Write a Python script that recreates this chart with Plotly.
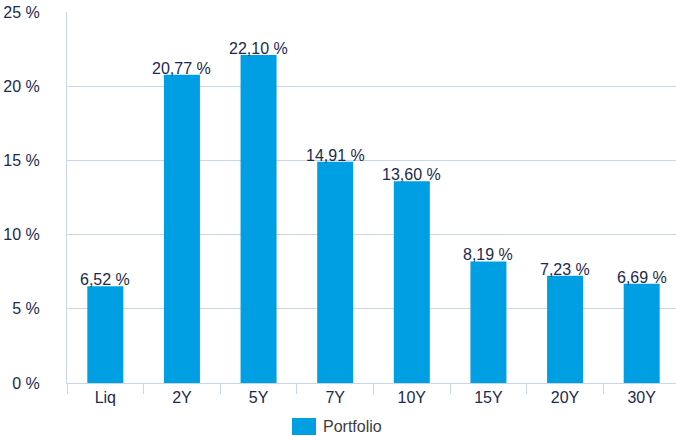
import plotly.graph_objects as go

categories = ["Liq", "2Y", "5Y", "7Y", "10Y", "15Y", "20Y", "30Y"]
values = [6.52, 20.77, 22.10, 14.91, 13.60, 8.19, 7.23, 6.69]
series_name = "Portfolio"
y_ticks = [0, 5, 10, 15, 20, 25]

labels = [f"{v:.2f} %".replace(".", ",") for v in values]

bar_color = "#009fe3"
text_color = "#1b2a4e"
grid_color = "#c9d5e8"
font_family = "Liberation Sans, Arial, Helvetica, sans-serif"

fig = go.Figure()
fig.add_trace(go.Bar(
    x=categories, y=values, name=series_name,
    marker=dict(color=bar_color, line=dict(width=0)),
    showlegend=False, hoverinfo="x+y",
))

for c, v, t in zip(categories, values, labels):
    fig.add_annotation(x=c, y=v, text=t, showarrow=False,
                       xanchor="center", yanchor="bottom", yshift=-4,
                       font=dict(size=16, color=text_color, family=font_family))

W = 680
plot_w = W - 67
fig.update_layout(
    width=W, height=436,
    margin=dict(l=67, r=0, t=12, b=53, autoexpand=False),
    paper_bgcolor="white", plot_bgcolor="white",
    bargap=0.53,
    font=dict(family=font_family, size=16, color=text_color),
)
fig.update_xaxes(
    type="category", tickson="boundaries", ticks="outside", ticklen=10,
    tickcolor=grid_color, tickwidth=1, automargin=False,
    showline=True, linecolor=grid_color, linewidth=1,
    showgrid=False, tickfont=dict(size=16, color=text_color),
)
fig.update_yaxes(
    range=[0, 25], tickvals=y_ticks, ticktext=[f"{t} %" for t in y_ticks],
    showgrid=True, gridcolor=grid_color, gridwidth=1, automargin=False,
    showline=True, linecolor=grid_color, linewidth=1,
    zeroline=False, ticks="", ticklabelstandoff=23,
    tickfont=dict(size=16, color=text_color),
)

# legend entry
fig.add_shape(type="rect", xref="paper", yref="paper",
              x0=(292 - 67) / plot_w, x1=(316 - 67) / plot_w,
              y0=-(418 - 383) / 371, y1=-(435 - 383) / 371,
              fillcolor=bar_color, line=dict(width=0))
fig.add_annotation(xref="paper", yref="paper",
                   x=(321 - 67) / plot_w, y=-(426.5 - 383) / 371,
                   xanchor="left", yanchor="middle", showarrow=False,
                   text=series_name, font=dict(size=16, color="#3d3d3d"))

fig.write_html("out.html",
               config={"displayModeBar": False},
               post_script="document.body.style.margin='0px';document.body.style.overflow='hidden';")
